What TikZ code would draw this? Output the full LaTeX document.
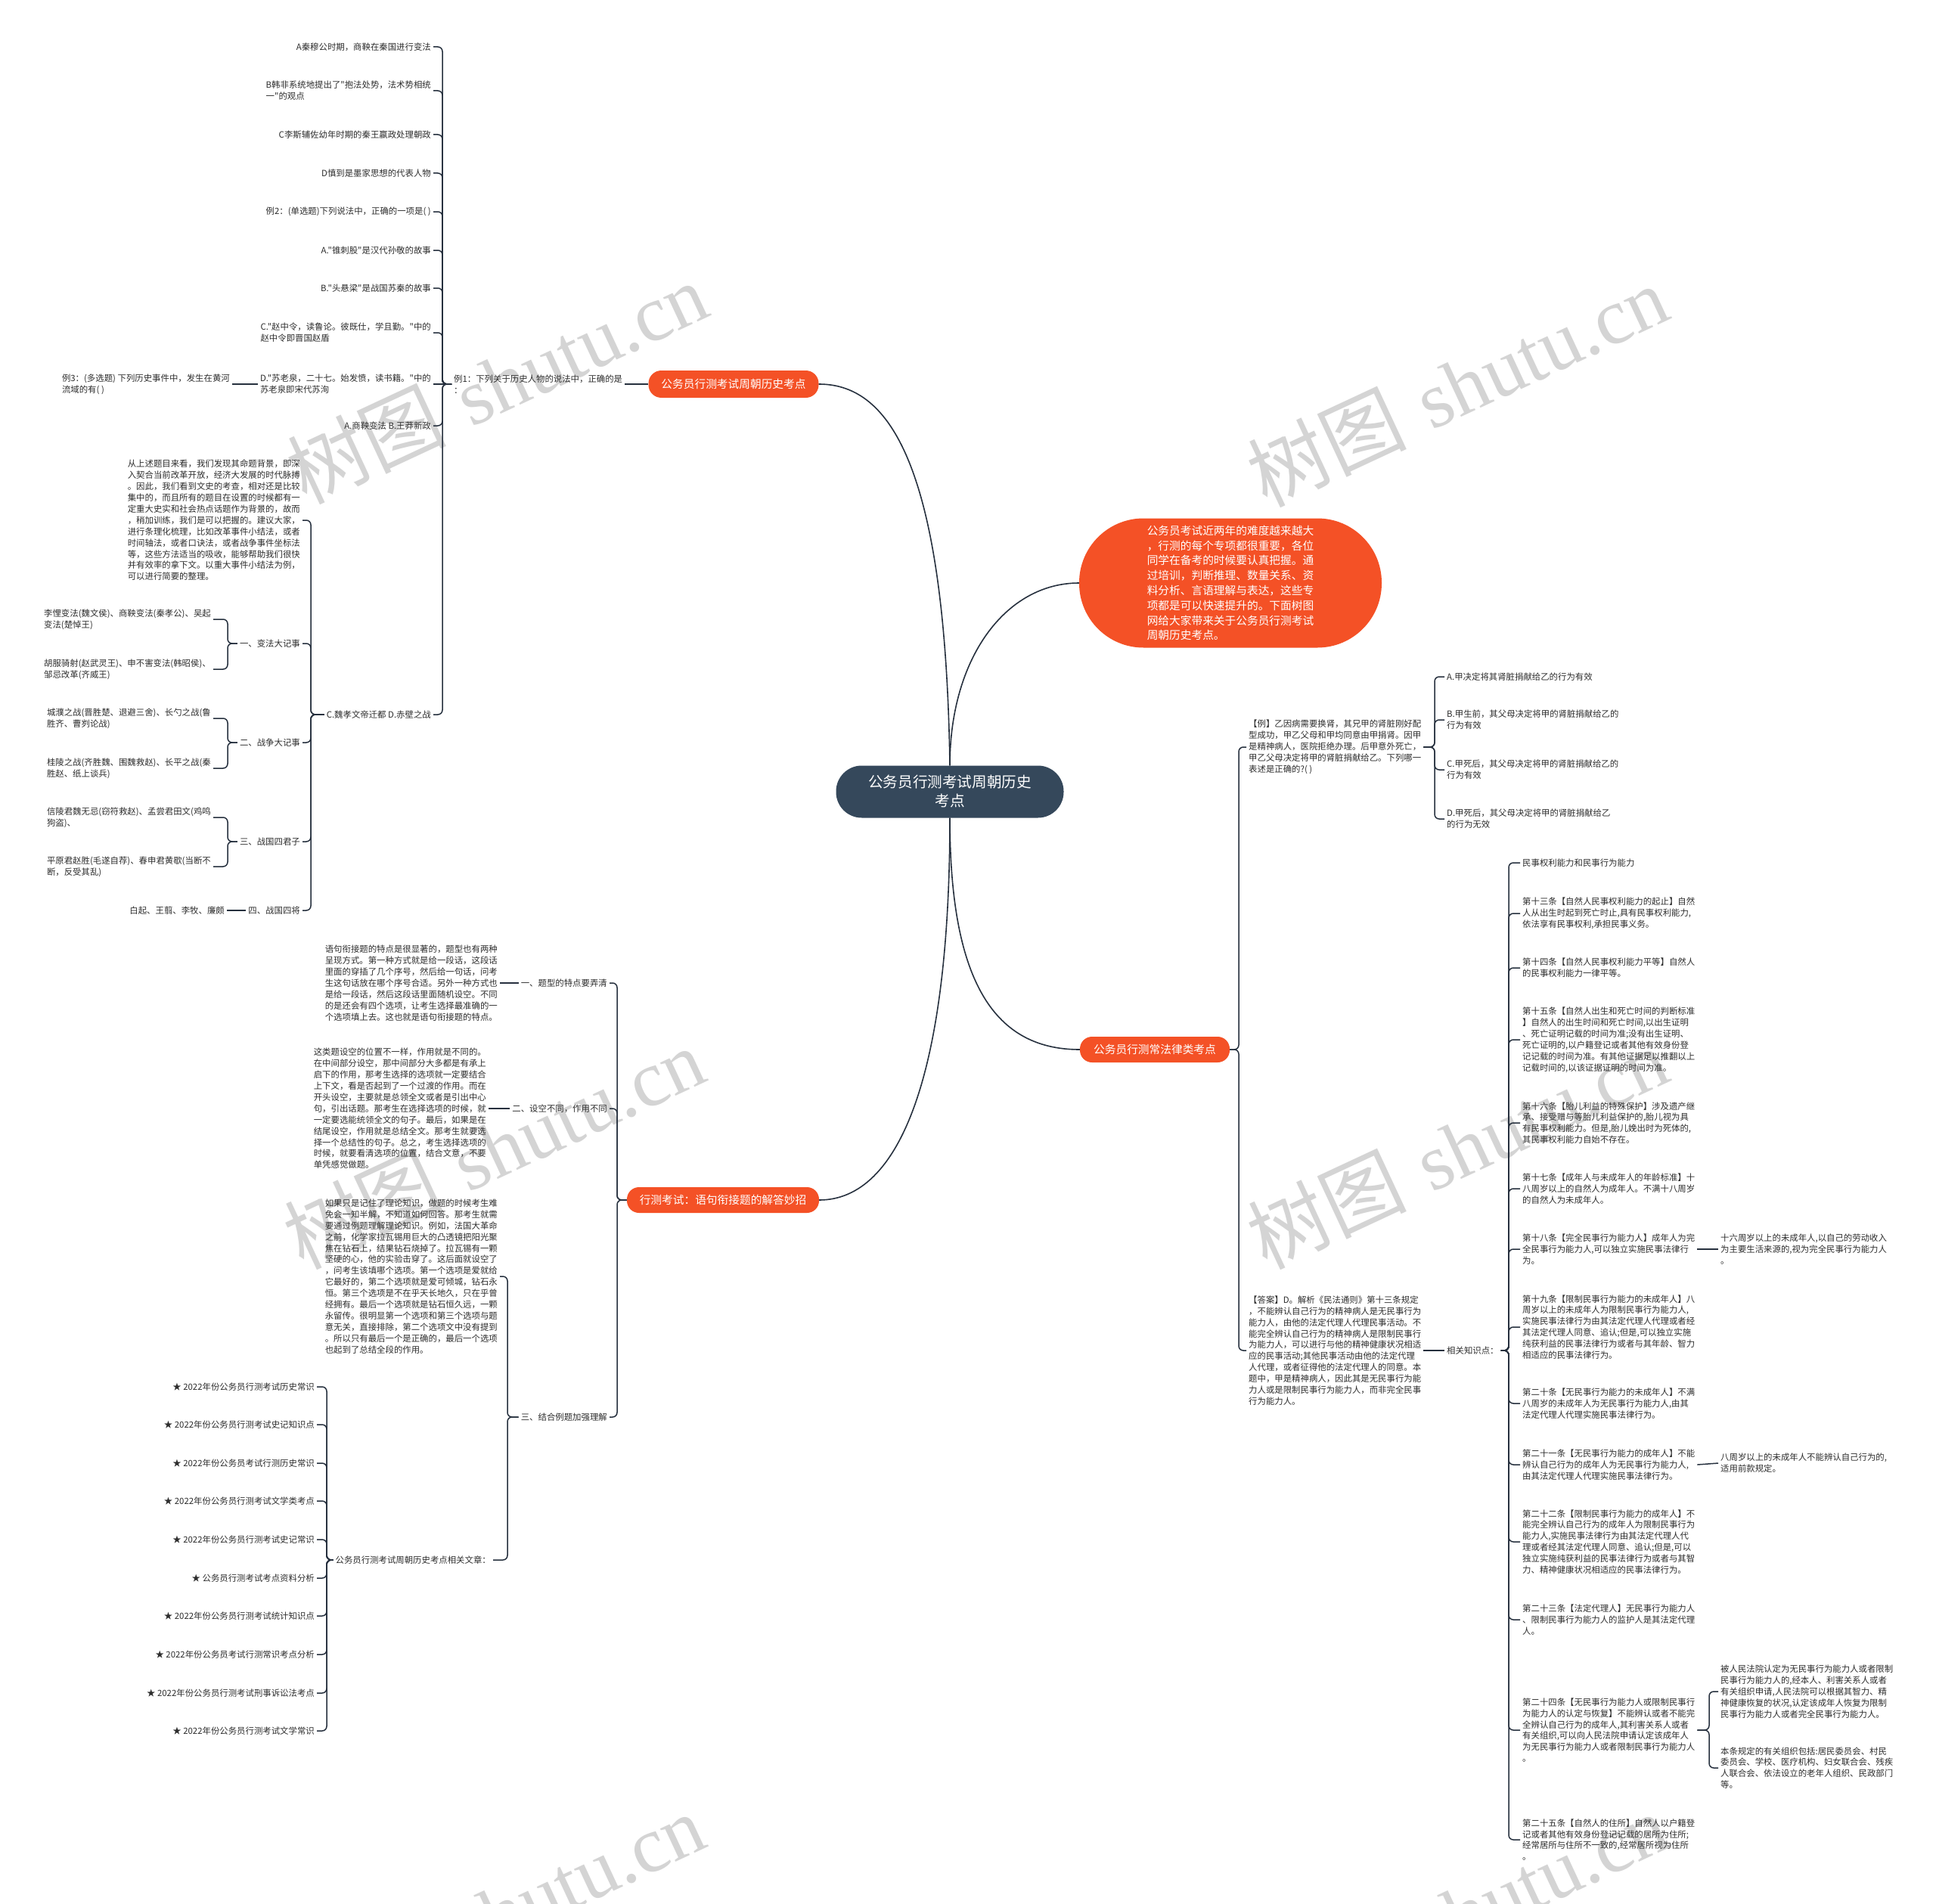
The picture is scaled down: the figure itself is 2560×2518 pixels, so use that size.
\documentclass[tikz,border=0pt]{standalone}
\usepackage{fontspec}
\newfontfamily\cjk{Noto Sans CJK SC}
\newfontfamily\wmserif{Liberation Serif}
\definecolor{org}{RGB}{244,81,38}
\definecolor{rootc}{RGB}{53,72,91}
\definecolor{lnc}{RGB}{38,48,62}
\definecolor{txc}{RGB}{45,45,45}
\definecolor{wmc}{RGB}{212,212,212}
\tikzset{
 conn/.style={draw=lnc, line width=1.5pt, rounded corners=6pt},
 curve/.style={draw=lnc, line width=1.6pt},
 tx/.style={font=\cjk\fontsize{11.4}{14.9}\selectfont, text=txc, align=left, inner xsep=3pt, inner ysep=2pt},
 txL/.style={tx, anchor=east},
 txR/.style={tx, anchor=west},
 onode/.style={fill=org, text=white, font=\cjk\fontsize{14.7}{19.8}\selectfont, inner sep=0pt, align=center},
 rootnode/.style={fill=rootc, text=white, font=\cjk\fontsize{19.6}{25}\selectfont, inner sep=0pt, align=center, rounded corners=34pt},
 wm/.style={text=wmc, rotate=25, font=\fontsize{105}{110}\selectfont, inner sep=0pt}
}
\newcommand\LK[3]{\draw[conn] (#1.west) -- (#1.west -| #3) |- (#2.east);}
\newcommand\RK[3]{\draw[conn] (#1.east) -- (#1.east -| #3) |- (#2.west);}
\begin{document}
\begin{tikzpicture}[x=1pt,y=-1pt]
\fill[white] (0,0) rectangle (2560,2518);
\useasboundingbox (0,0) rectangle (2560,2518);
% watermarks
\foreach \px/\py [count=\i] in {657/506, 1927/510, 653/1518, 1927/1518, 653/2531, 1927/2531}
  \node[wm] (wm\i) at (\px,\py) {{\cjk 树图} {\wmserif shutu.cn}};

% root and main branches
\node[rootnode, minimum width=301pt, minimum height=69pt] (root) at (1256,1047) {公务员行测考试周朝历史\\考点};
\node[onode, minimum width=225pt, minimum height=36pt, rounded corners=17pt] (o1) at (970,508) {公务员行测考试周朝历史考点};
\node[onode, minimum width=400pt, minimum height=171pt, rounded corners=85pt, align=left] (intro) at (1627,771) {公务员考试近两年的难度越来越大\\，行测的每个专项都很重要，各位\\同学在备考的时候要认真把握。通\\过培训，判断推理、数量关系、资\\料分析、言语理解与表达，这些专\\项都是可以快速提升的。下面树图\\网给大家带来关于公务员行测考试\\周朝历史考点。};
\node[onode, minimum width=198pt, minimum height=34pt, rounded corners=16pt] (o3) at (1527,1388) {公务员行测常法律类考点};
\node[onode, minimum width=254pt, minimum height=34pt, rounded corners=16pt] (o4) at (956,1587) {行测考试：语句衔接题的解答妙招};

\draw[curve] (o1.east) .. controls (1170,508) and (1250,600) .. (root.north);
\draw[curve] (root.north) .. controls (1256,870) and (1330,771) .. (intro.west);
\draw[curve] (root.south) .. controls (1256,1290) and (1310,1388) .. (o3.west);
\draw[curve] (root.south) .. controls (1256,1420) and (1190,1587) .. (o4.east);

% ---------- branch 1 ----------
\coordinate (s1) at (585,0);
\node[txR] (ex1) at (597,508) {例1：下列关于历史人物的说法中，正确的是\\：};
\draw[conn] (o1.west) -- (ex1.east);
\node[txL] (a1) at (573,62) {A秦穆公时期，商鞅在秦国进行变法};
\node[txL] (a2) at (573,120) {B韩非系统地提出了"抱法处势，法术势相统\\一"的观点};
\node[txL] (a3) at (573,178) {C李斯辅佐幼年时期的秦王嬴政处理朝政};
\node[txL] (a4) at (573,229) {D慎到是墨家思想的代表人物};
\node[txL] (a5) at (573,280) {例2：(单选题)下列说法中，正确的一项是( )};
\node[txL] (a6) at (573,331) {A."锥刺股"是汉代孙敬的故事};
\node[txL] (a7) at (573,381) {B."头悬梁"是战国苏秦的故事};
\node[txL] (a8) at (573,440) {C."赵中令，读鲁论。彼既仕，学且勤。"中的\\赵中令即晋国赵盾};
\node[txL] (a9) at (573,508) {D."苏老泉，二十七。始发愤，读书籍。"中的\\苏老泉即宋代苏洵};
\node[txL] (a10) at (573,563) {A.商鞅变法 B.王莽新政};
\node[txL] (a11) at (573,945) {C.魏孝文帝迁都 D.赤壁之战};
\foreach \c in {a1,a2,a3,a4,a5,a6,a7,a8,a10,a11} {\LK{ex1}{\c}{s1}}
\draw[conn] (ex1.west) -- (a9.east);
\node[txL] (ex3) at (307,508) {例3：(多选题) 下列历史事件中，发生在黄河\\流域的有( )};
\draw[conn] (a9.west) -- (ex3.east);

\coordinate (s2) at (411,0);
\node[txL] (p1) at (400,688) {从上述题目来看，我们发现其命题背景，即深\\入契合当前改革开放，经济大发展的时代脉搏\\。因此，我们看到文史的考查，相对还是比较\\集中的，而且所有的题目在设置的时候都有一\\定重大史实和社会热点话题作为背景的，故而\\，稍加训练，我们是可以把握的。建议大家，\\进行条理化梳理，比如改革事件小结法，或者\\时间轴法，或者口诀法，或者战争事件坐标法\\等，这些方法适当的吸收，能够帮助我们很快\\并有效率的拿下文。以重大事件小结法为例，\\可以进行简要的整理。};
\node[txL] (k1) at (400,851) {一、变法大记事};
\node[txL] (k2) at (400,982) {二、战争大记事};
\node[txL] (k3) at (400,1113) {三、战国四君子};
\node[txL] (k4) at (400,1204) {四、战国四将};
\foreach \c in {p1,k1,k2,k3,k4} {\LK{a11}{\c}{s2}}

\coordinate (s3) at (301,0);
\node[txL] (k1a) at (282,819) {李悝变法(魏文侯)、商鞅变法(秦孝公)、吴起\\变法(楚悼王)};
\node[txL] (k1b) at (282,885) {胡服骑射(赵武灵王)、申不害变法(韩昭侯)、\\邹忌改革(齐威王)};
\node[txL] (k2a) at (282,950) {城濮之战(晋胜楚、退避三舍)、长勺之战(鲁\\胜齐、曹刿论战)};
\node[txL] (k2b) at (282,1016) {桂陵之战(齐胜魏、围魏救赵)、长平之战(秦\\胜赵、纸上谈兵)};
\node[txL] (k3a) at (282,1081) {信陵君魏无忌(窃符救赵)、孟尝君田文(鸡鸣\\狗盗)、};
\node[txL] (k3b) at (282,1146) {平原君赵胜(毛遂自荐)、春申君黄歇(当断不\\断，反受其乱)};
\LK{k1}{k1a}{s3} \LK{k1}{k1b}{s3}
\LK{k2}{k2a}{s3} \LK{k2}{k2b}{s3}
\LK{k3}{k3a}{s3} \LK{k3}{k3b}{s3}
\node[txL] (k4a) at (300,1204) {白起、王翦、李牧、廉颇};
\draw[conn] (k4.west) -- (k4a.east);

% ---------- branch 3 (law) ----------
\coordinate (s4) at (1638,0);
\node[txR] (ex) at (1648,988) {【例】乙因病需要换肾，其兄甲的肾脏刚好配\\型成功，甲乙父母和甲均同意由甲捐肾。因甲\\是精神病人，医院拒绝办理。后甲意外死亡，\\甲乙父母决定将甲的肾脏捐献给乙。下列哪一\\表述是正确的?( )};
\node[txR] (ans) at (1648,1786) {【答案】D。解析《民法通则》第十三条规定\\，不能辨认自己行为的精神病人是无民事行为\\能力人，由他的法定代理人代理民事活动。不\\能完全辨认自己行为的精神病人是限制民事行\\为能力人，可以进行与他的精神健康状况相适\\应的民事活动;其他民事活动由他的法定代理\\人代理，或者征得他的法定代理人的同意。本\\题中，甲是精神病人，因此其是无民事行为能\\力人或是限制民事行为能力人，而非完全民事\\行为能力人。};
\RK{o3}{ex}{s4} \RK{o3}{ans}{s4}

\coordinate (s5) at (1897,0);
\node[txR] (qa) at (1910,895) {A.甲决定将其肾脏捐献给乙的行为有效};
\node[txR] (qb) at (1910,952) {B.甲生前，其父母决定将甲的肾脏捐献给乙的\\行为有效};
\node[txR] (qc) at (1910,1018) {C.甲死后，其父母决定将甲的肾脏捐献给乙的\\行为有效};
\node[txR] (qd) at (1910,1083) {D.甲死后，其父母决定将甲的肾脏捐献给乙\\的行为无效};
\foreach \c in {qa,qb,qc,qd} {\RK{ex}{\c}{s5}}

\node[txR] (rel2) at (1910,1786) {相关知识点：};
\draw[conn] (ans.east) -- (rel2.west);

\coordinate (s6) at (1995,0);
\node[txR] (l1) at (2010,1141) {民事权利能力和民事行为能力};
\node[txR] (l2) at (2010,1208) {第十三条【自然人民事权利能力的起止】自然\\人从出生时起到死亡时止,具有民事权利能力,\\依法享有民事权利,承担民事义务。};
\node[txR] (l3) at (2010,1280) {第十四条【自然人民事权利能力平等】自然人\\的民事权利能力一律平等。};
\node[txR] (l4) at (2010,1375) {第十五条【自然人出生和死亡时间的判断标准\\】自然人的出生时间和死亡时间,以出生证明\\、死亡证明记载的时间为准;没有出生证明、\\死亡证明的,以户籍登记或者其他有效身份登\\记记载的时间为准。有其他证据足以推翻以上\\记载时间的,以该证据证明的时间为准。};
\node[txR] (l5) at (2010,1485) {第十六条【胎儿利益的特殊保护】涉及遗产继\\承、接受赠与等胎儿利益保护的,胎儿视为具\\有民事权利能力。但是,胎儿娩出时为死体的,\\其民事权利能力自始不存在。};
\node[txR] (l6) at (2010,1572) {第十七条【成年人与未成年人的年龄标准】十\\八周岁以上的自然人为成年人。不满十八周岁\\的自然人为未成年人。};
\node[txR] (l7) at (2010,1652) {第十八条【完全民事行为能力人】成年人为完\\全民事行为能力人,可以独立实施民事法律行\\为。};
\node[txR] (l8) at (2010,1755) {第十九条【限制民事行为能力的未成年人】八\\周岁以上的未成年人为限制民事行为能力人,\\实施民事法律行为由其法定代理人代理或者经\\其法定代理人同意、追认;但是,可以独立实施\\纯获利益的民事法律行为或者与其年龄、智力\\相适应的民事法律行为。};
\node[txR] (l9) at (2010,1856) {第二十条【无民事行为能力的未成年人】不满\\八周岁的未成年人为无民事行为能力人,由其\\法定代理人代理实施民事法律行为。};
\node[txR] (l10) at (2010,1937) {第二十一条【无民事行为能力的成年人】不能\\辨认自己行为的成年人为无民事行为能力人,\\由其法定代理人代理实施民事法律行为。};
\node[txR] (l11) at (2010,2039) {第二十二条【限制民事行为能力的成年人】不\\能完全辨认自己行为的成年人为限制民事行为\\能力人,实施民事法律行为由其法定代理人代\\理或者经其法定代理人同意、追认;但是,可以\\独立实施纯获利益的民事法律行为或者与其智\\力、精神健康状况相适应的民事法律行为。};
\node[txR] (l12) at (2010,2142) {第二十三条【法定代理人】无民事行为能力人\\、限制民事行为能力人的监护人是其法定代理\\人。};
\node[txR] (l13) at (2010,2288) {第二十四条【无民事行为能力人或限制民事行\\为能力人的认定与恢复】不能辨认或者不能完\\全辨认自己行为的成年人,其利害关系人或者\\有关组织,可以向人民法院申请认定该成年人\\为无民事行为能力人或者限制民事行为能力人\\。};
\node[txR] (l14) at (2010,2433) {第二十五条【自然人的住所】自然人以户籍登\\记或者其他有效身份登记记载的居所为住所;\\经常居所与住所不一致的,经常居所视为住所\\。};
\foreach \c in {l1,l2,l3,l4,l5,l6,l7,l8,l9,l10,l11,l12,l13,l14} {\RK{rel2}{\c}{s6}}

\node[txR] (l7c) at (2272,1652) {十六周岁以上的未成年人,以自己的劳动收入\\为主要生活来源的,视为完全民事行为能力人\\。};
\draw[conn] (l7.east) -- (l7c.west);
\node[txR] (l10c) at (2272,1935) {八周岁以上的未成年人不能辨认自己行为的,\\适用前款规定。};
\draw[conn] (l10.east) -- (l10c.west);
\coordinate (s10) at (2260,0);
\node[txR] (l13a) at (2272,2237) {被人民法院认定为无民事行为能力人或者限制\\民事行为能力人的,经本人、利害关系人或者\\有关组织申请,人民法院可以根据其智力、精\\神健康恢复的状况,认定该成年人恢复为限制\\民事行为能力人或者完全民事行为能力人。};
\node[txR] (l13b) at (2272,2338) {本条规定的有关组织包括:居民委员会、村民\\委员会、学校、医疗机构、妇女联合会、残疾\\人联合会、依法设立的老年人组织、民政部门\\等。};
\RK{l13}{l13a}{s10} \RK{l13}{l13b}{s10}

% ---------- branch 4 ----------
\coordinate (s7) at (816,0);
\node[txL] (f1) at (806,1300) {一、题型的特点要弄清};
\node[txL] (f2) at (806,1466) {二、设空不同，作用不同};
\node[txL] (f3) at (806,1874) {三、结合例题加强理解};
\foreach \c in {f1,f2,f3} {\LK{o4}{\c}{s7}}

\node[txL] (pa1) at (661,1300) {语句衔接题的特点是很显著的，题型也有两种\\呈现方式。第一种方式就是给一段话，这段话\\里面的穿插了几个序号，然后给一句话，问考\\生这句话放在哪个序号合适。另外一种方式也\\是给一段话，然后这段话里面随机设空。不同\\的是还会有四个选项，让考生选择最准确的一\\个选项填上去。这也就是语句衔接题的特点。};
\draw[conn] (f1.west) -- (pa1.east);
\node[txL] (pa2) at (646,1466) {这类题设空的位置不一样，作用就是不同的。\\在中间部分设空，那中间部分大多都是有承上\\启下的作用，那考生选择的选项就一定要结合\\上下文，看是否起到了一个过渡的作用。而在\\开头设空，主要就是总领全文或者是引出中心\\句，引出话题。那考生在选择选项的时候，就\\一定要选能统领全文的句子。最后，如果是在\\结尾设空，作用就是总结全文。那考生就要选\\择一个总结性的句子。总之，考生选择选项的\\时候，就要看清选项的位置，结合文意，不要\\单凭感觉做题。};
\draw[conn] (f2.west) -- (pa2.east);

\coordinate (s8) at (671,0);
\node[txL] (pa3) at (661,1688) {如果只是记住了理论知识，做题的时候考生难\\免会一知半解，不知道如何回答。那考生就需\\要通过例题理解理论知识。例如，法国大革命\\之前，化学家拉瓦锡用巨大的凸透镜把阳光聚\\焦在钻石上，结果钻石烧掉了。拉瓦锡有一颗\\坚硬的心，他的实验击穿了。这后面就设空了\\，问考生该填哪个选项。第一个选项是爱就给\\它最好的，第二个选项就是爱可倾城，钻石永\\恒。第三个选项是不在乎天长地久，只在乎曾\\经拥有。最后一个选项就是钻石恒久远，一颗\\永留传。很明显第一个选项和第三个选项与题\\意无关，直接排除，第二个选项文中没有提到\\。所以只有最后一个是正确的，最后一个选项\\也起到了总结全段的作用。};
\node[txL] (rel) at (652,2063) {公务员行测考试周朝历史考点相关文章：};
\LK{f3}{pa3}{s8} \LK{f3}{rel}{s8}

\coordinate (s9) at (432,0);
\node[txL] (r1) at (419,1834) {★ 2022年份公务员行测考试历史常识};
\node[txL] (r2) at (419,1884) {★ 2022年份公务员行测考试史记知识点};
\node[txL] (r3) at (419,1935) {★ 2022年份公务员考试行测历史常识};
\node[txL] (r4) at (419,1985) {★ 2022年份公务员行测考试文学类考点};
\node[txL] (r5) at (419,2036) {★ 2022年份公务员行测考试史记常识};
\node[txL] (r6) at (419,2087) {★ 公务员行测考试考点资料分析};
\node[txL] (r7) at (419,2137) {★ 2022年份公务员行测考试统计知识点};
\node[txL] (r8) at (419,2188) {★ 2022年份公务员考试行测常识考点分析};
\node[txL] (r9) at (419,2239) {★ 2022年份公务员行测考试刑事诉讼法考点};
\node[txL] (r10) at (419,2289) {★ 2022年份公务员行测考试文学常识};
\foreach \c in {r1,r2,r3,r4,r5,r6,r7,r8,r9,r10} {\LK{rel}{\c}{s9}}
\end{tikzpicture}
\end{document}
